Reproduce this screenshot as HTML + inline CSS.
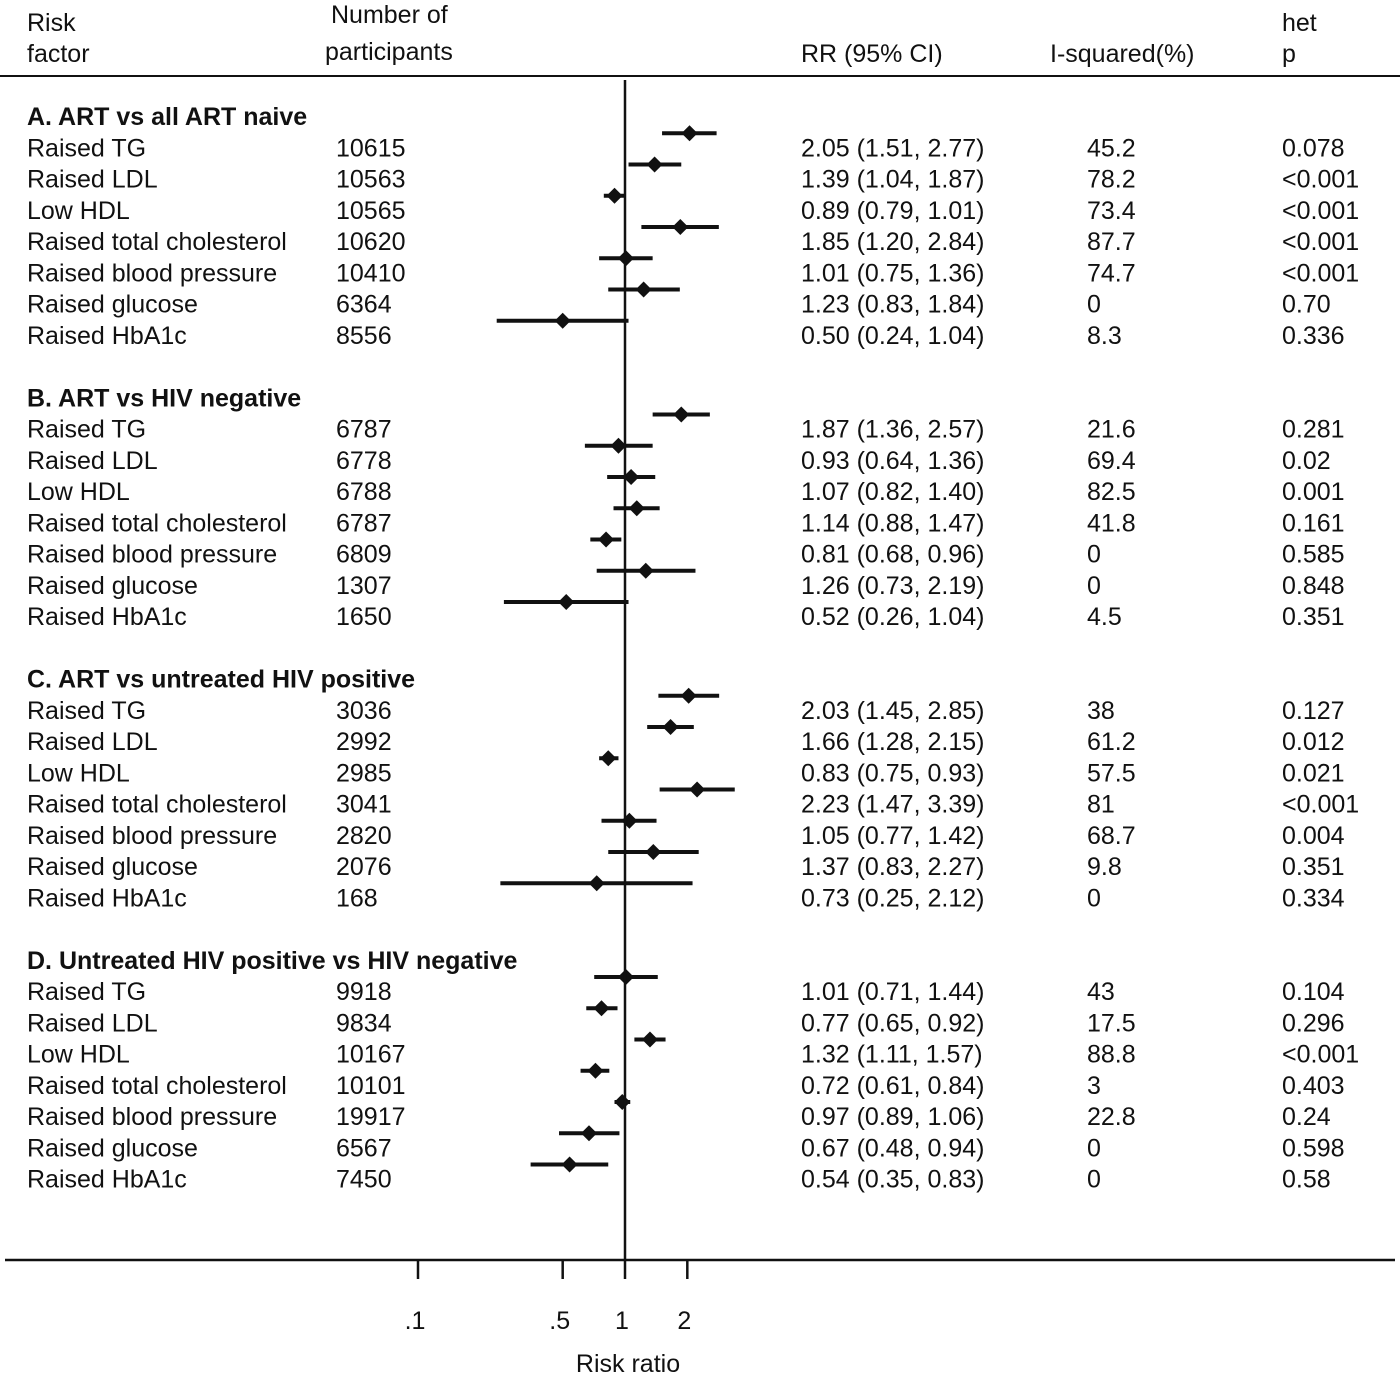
<!DOCTYPE html>
<html><head><meta charset="utf-8"><style>
html,body{margin:0;padding:0;background:#fff;}
svg text{font-family:"Liberation Sans",sans-serif;font-size:25px;fill:#111;}
</style></head><body>
<svg id="chart" width="1400" height="1377" viewBox="0 0 1400 1377" xmlns="http://www.w3.org/2000/svg">
<g>
<text x="27" y="31">Risk</text>
<text x="27" y="62">factor</text>
<text x="331" y="23">Number of</text>
<text x="325" y="60">participants</text>
<text x="801" y="62">RR (95% CI)</text>
<text x="1050" y="62">I-squared(%)</text>
<text x="1282" y="31">het</text>
<text x="1282" y="62">p</text>
</g>
<line x1="0" y1="76" x2="1400" y2="76" stroke="#111" stroke-width="2"/>
<g id="rows"></g>
</svg>
<script>
const sections = ["A. ART vs all ART naive","B. ART vs HIV negative","C. ART vs untreated HIV positive","D. Untreated HIV positive vs HIV negative"];
const factors = ["Raised TG","Raised LDL","Low HDL","Raised total cholesterol","Raised blood pressure","Raised glucose","Raised HbA1c"];
const participants = [
 ["10615","10563","10565","10620","10410","6364","8556"],
 ["6787","6778","6788","6787","6809","1307","1650"],
 ["3036","2992","2985","3041","2820","2076","168"],
 ["9918","9834","10167","10101","19917","6567","7450"]];
const rr = [[2.05,1.39,0.89,1.85,1.01,1.23,0.50],[1.87,0.93,1.07,1.14,0.81,1.26,0.52],[2.03,1.66,0.83,2.23,1.05,1.37,0.73],[1.01,0.77,1.32,0.72,0.97,0.67,0.54]];
const lo = [[1.51,1.04,0.79,1.20,0.75,0.83,0.24],[1.36,0.64,0.82,0.88,0.68,0.73,0.26],[1.45,1.28,0.75,1.47,0.77,0.83,0.25],[0.71,0.65,1.11,0.61,0.89,0.48,0.35]];
const hi = [[2.77,1.87,1.01,2.84,1.36,1.84,1.04],[2.57,1.36,1.40,1.47,0.96,2.19,1.04],[2.85,2.15,0.93,3.39,1.42,2.27,2.12],[1.44,0.92,1.57,0.84,1.06,0.94,0.83]];
const isq = [["45.2","78.2","73.4","87.7","74.7","0","8.3"],["21.6","69.4","82.5","41.8","0","0","4.5"],["38","61.2","57.5","81","68.7","9.8","0"],["43","17.5","88.8","3","22.8","0","0"]];
const hetp = [["0.078","<0.001","<0.001","<0.001","<0.001","0.70","0.336"],["0.281","0.02","0.001","0.161","0.585","0.848","0.351"],["0.127","0.012","0.021","<0.001","0.004","0.351","0.334"],["0.104","0.296","<0.001","0.403","0.24","0.598","0.58"]];
const ticks = [0.1,0.5,1,2];
const tickLabels = [".1",".5","1","2"];

const NS="http://www.w3.org/2000/svg";
const svg=document.getElementById('chart');
const g=document.getElementById('rows');
const x0=625, perDecade=207;
function xScale(v){return x0+perDecade*Math.log10(v);}
function rowY(i){return 117+i*31.25;}
function mk(tag,attrs,parent){const e=document.createElementNS(NS,tag);for(const k in attrs)e.setAttribute(k,attrs[k]);(parent||g).appendChild(e);return e;}
function txt(x,y,s,bold){const t=mk('text',{x:x,y:y+8});t.textContent=s;if(bold)t.setAttribute('font-weight','bold');return t;}
const fmt=v=>v.toFixed(2);
sections.forEach((sec,si)=>{
  const base=si*9;
  const h=txt(27,rowY(base),sec,true);
  
  
  factors.forEach((f,fi)=>{
    const y=rowY(base+1+fi);
    const t1=txt(27,y,f);
    
    
    const t2=txt(336,y,participants[si][fi]);
    
    
    const t3=txt(801,y,fmt(rr[si][fi])+" ("+fmt(lo[si][fi])+", "+fmt(hi[si][fi])+")");
    
    
    const t4=txt(1087,y,isq[si][fi]);
    
    
    const t5=txt(1282,y,hetp[si][fi]);
    
    
    const my=y-15;
    const ci=mk('line',{x1:xScale(lo[si][fi]),x2:xScale(hi[si][fi]),y1:my,y2:my,stroke:'#111','stroke-width':4});
    
    
    const cx=xScale(rr[si][fi]);
    const d=mk('polygon',{points:`${cx-8},${my} ${cx},${my-8} ${cx+8},${my} ${cx},${my+8}`,fill:'#111'});
    
    
  });
});
const ref=mk('line',{x1:x0,x2:x0,y1:80,y2:1260,stroke:'#111','stroke-width':2.5});


const ax=mk('line',{x1:5,x2:1395,y1:1260,y2:1260,stroke:'#111','stroke-width':2.5});


ticks.forEach((v,i)=>{
  const x=xScale(v);
  const tk=mk('line',{x1:x,x2:x,y1:1260,y2:1279,stroke:'#111','stroke-width':2.5});
  
  
  const tl=mk('text',{x:x-3,y:1329,'text-anchor':'middle'});
  tl.textContent=tickLabels[i];
  
  
});
const xt=mk('text',{x:628,y:1372,'text-anchor':'middle'});
xt.textContent="Risk ratio";


</script>
</body></html>
